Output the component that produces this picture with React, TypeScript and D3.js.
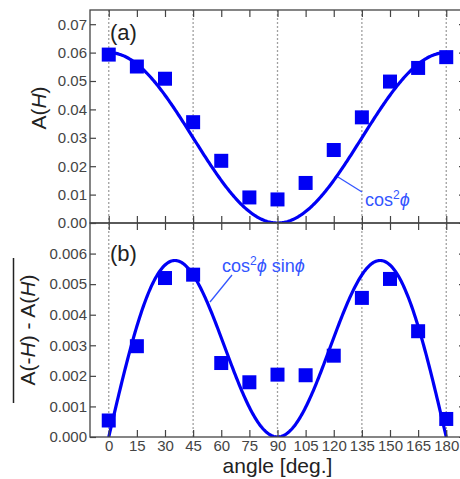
import React, { useEffect, useRef } from "react";
import * as d3 from "d3";

// measured angles (deg)
const angles = [0, 15, 30, 45, 60, 75, 90, 105, 120, 135, 150, 165, 180];
// panel (a): A(H)
const aValues = [0.0593, 0.0551, 0.0508, 0.0355, 0.0219, 0.009, 0.0083, 0.0141, 0.0257, 0.0372, 0.0498, 0.0546, 0.0584];
// panel (b): overline(A(-H) - A(H))
const bValues = [0.00054, 0.00297, 0.0052, 0.00531, 0.00242, 0.00179, 0.00204, 0.00202, 0.00266, 0.00455, 0.00517, 0.00346, 0.00059];
// fit amplitudes
const aAmp = 0.06;
const bAmp = 0.015;

const xTicks = [0, 15, 30, 45, 60, 75, 90, 105, 120, 135, 150, 165, 180];
const gridAngles = [0, 45, 90, 135, 180];
const aTicks = [0, 0.01, 0.02, 0.03, 0.04, 0.05, 0.06, 0.07];
const bTicks = [0, 0.001, 0.002, 0.003, 0.004, 0.005, 0.006];

const BLUE = "#0000f5";
const LABEL_BLUE = "#3355ff";
const FONT = "'Liberation Sans', Arial, sans-serif";

const App = () => {
  const svgRef = useRef(null);

  useEffect(() => {
    const width = 460, height = 479;
    const left = 90, right = 465;
    const aTop = 10, mid = 223, bBottom = 437;

    const svg = d3.select(svgRef.current)
      .attr("width", width)
      .attr("height", height)
      .style("background", "#fff");
    svg.selectAll("*").remove();

    const x = d3.scaleLinear().domain([-10, 190]).range([left, right]);
    const ya = d3.scaleLinear().domain([0, 0.075]).range([mid, aTop]);
    const yb = d3.scaleLinear().domain([0, 0.007]).range([bBottom, mid]);

    const rad = (d) => (d * Math.PI) / 180;
    const fineAngles = d3.range(0, 180.5, 0.5);

    const panels = [
      { y: ya, top: aTop, bottom: mid, vals: aValues, ticks: aTicks, fmt: d3.format(".2f"),
        fn: (d) => aAmp * Math.cos(rad(d)) ** 2 },
      { y: yb, top: mid, bottom: bBottom, vals: bValues, ticks: bTicks, fmt: d3.format(".3f"),
        fn: (d) => bAmp * Math.cos(rad(d)) ** 2 * Math.abs(Math.sin(rad(d))) },
    ];

    panels.forEach((p, i) => {
      const g = svg.append("g");
      const clipId = "clip" + i;
      svg.append("clipPath").attr("id", clipId)
        .append("rect").attr("x", left).attr("y", p.top)
        .attr("width", right - left).attr("height", p.bottom - p.top);

      // dotted grid
      g.selectAll(".grid").data(gridAngles).enter().append("line")
        .attr("x1", d => x(d)).attr("x2", d => x(d))
        .attr("y1", p.top).attr("y2", p.bottom)
        .attr("stroke", "#a0a0a0").attr("stroke-width", 1.3)
        .attr("stroke-dasharray", "2,2");

      // fit curve
      const line = d3.line().x(d => x(d)).y(d => p.y(p.fn(d)));
      g.append("path").datum(fineAngles)
        .attr("d", line)
        .attr("fill", "none")
        .attr("stroke", BLUE)
        .attr("stroke-width", 3.2)
        .attr("clip-path", `url(#${clipId})`);

      // data squares
      const s = 14;
      g.selectAll(".pt").data(angles).enter().append("rect")
        .attr("x", d => x(d) - s / 2)
        .attr("y", (d, j) => p.y(p.vals[j]) - s / 2)
        .attr("width", s).attr("height", s)
        .attr("fill", BLUE);

      // y axis (left, inward ticks)
      const yAxis = svg.append("g")
        .attr("transform", `translate(${left},0)`)
        .call(d3.axisLeft(p.y).tickValues(p.ticks).tickFormat(p.fmt).tickSize(-6).tickPadding(3));
      yAxis.select(".domain").remove();
      yAxis.selectAll("line").attr("stroke", "#444").attr("stroke-width", 1.2);
      yAxis.selectAll("text").attr("fill", "#444").style("font-size", "15px").style("font-family", FONT);

      // right ticks
      const yAxisR = svg.append("g")
        .attr("transform", `translate(${right},0)`)
        .call(d3.axisRight(p.y).tickValues(p.ticks).tickFormat("").tickSize(-6));
      yAxisR.select(".domain").remove();
      yAxisR.selectAll("line").attr("stroke", "#444").attr("stroke-width", 1.2);

      // x ticks top and bottom of each panel (inward)
      const xTop = svg.append("g")
        .attr("transform", `translate(0,${p.top})`)
        .call(d3.axisTop(x).tickValues(xTicks).tickFormat("").tickSize(-7));
      xTop.select(".domain").remove();
      xTop.selectAll("line").attr("stroke", "#444").attr("stroke-width", 1.2);

      const xBot = svg.append("g")
        .attr("transform", `translate(0,${p.bottom})`)
        .call(d3.axisBottom(x).tickValues(xTicks).tickSize(-7).tickPadding(3)
          .tickFormat(i === 1 ? d3.format("d") : ""));
      xBot.select(".domain").remove();
      xBot.selectAll("line").attr("stroke", "#444").attr("stroke-width", 1.2);
      xBot.selectAll("text").attr("fill", "#444").style("font-size", "15px").style("font-family", FONT);

      // frame
      svg.append("rect")
        .attr("x", left).attr("y", p.top)
        .attr("width", right - left).attr("height", p.bottom - p.top)
        .attr("fill", "none").attr("stroke", "#444").attr("stroke-width", 1.3);
    });

    // panel letters
    svg.append("text").attr("x", 110).attr("y", 40).text("(a)")
      .style("font-size", "22px").style("font-family", FONT).attr("fill", "#222");
    svg.append("text").attr("x", 110).attr("y", 261).text("(b)")
      .style("font-size", "22px").style("font-family", FONT).attr("fill", "#222");

    // y labels
    const la = svg.append("text")
      .attr("transform", "translate(46,108) rotate(-90)")
      .attr("text-anchor", "middle")
      .style("font-size", "21px").style("font-family", FONT).attr("fill", "#222");
    la.append("tspan").text("A(");
    la.append("tspan").text("H").style("font-style", "italic");
    la.append("tspan").text(")");

    const lb = svg.append("text")
      .attr("transform", "translate(35,330) rotate(-90)")
      .attr("text-anchor", "middle")
      .style("font-size", "21px").style("font-family", FONT).attr("fill", "#222");
    lb.append("tspan").text("A(-");
    lb.append("tspan").text("H").style("font-style", "italic");
    lb.append("tspan").text(") - A(");
    lb.append("tspan").text("H").style("font-style", "italic");
    lb.append("tspan").text(")");
    svg.append("line")
      .attr("x1", 13.5).attr("x2", 13.5).attr("y1", 258).attr("y2", 403)
      .attr("stroke", "#222").attr("stroke-width", 1.5);

    // x label
    svg.append("text")
      .attr("x", x(90)).attr("y", 473)
      .attr("text-anchor", "middle")
      .style("font-size", "21px").style("font-family", FONT).attr("fill", "#222")
      .text("angle [deg.]");

    // curve annotations
    svg.append("line").attr("x1", 338).attr("y1", 177).attr("x2", 362).attr("y2", 192)
      .attr("stroke", LABEL_BLUE).attr("stroke-width", 1.3);
    const ta = svg.append("text").attr("x", 365).attr("y", 206)
      .style("font-size", "18px").style("font-family", FONT).attr("fill", LABEL_BLUE);
    ta.append("tspan").text("cos");
    ta.append("tspan").text("2").attr("dy", -7).style("font-size", "12px");
    ta.append("tspan").text("ϕ").attr("dy", 7).style("font-style", "italic");

    svg.append("line").attr("x1", 210).attr("y1", 302).attr("x2", 232).attr("y2", 275)
      .attr("stroke", LABEL_BLUE).attr("stroke-width", 1.3);
    const tb = svg.append("text").attr("x", 222).attr("y", 272)
      .style("font-size", "18px").style("font-family", FONT).attr("fill", LABEL_BLUE);
    tb.append("tspan").text("cos");
    tb.append("tspan").text("2").attr("dy", -7).style("font-size", "12px");
    tb.append("tspan").text("ϕ").attr("dy", 7).style("font-style", "italic");
    tb.append("tspan").text(" sin");
    tb.append("tspan").text("ϕ").style("font-style", "italic");
  }, []);

  return (
    <div style={{ position: "absolute", left: 0, top: 0 }}>
      <svg ref={svgRef} style={{ display: "block" }}></svg>
    </div>
  );
};

export default App;
